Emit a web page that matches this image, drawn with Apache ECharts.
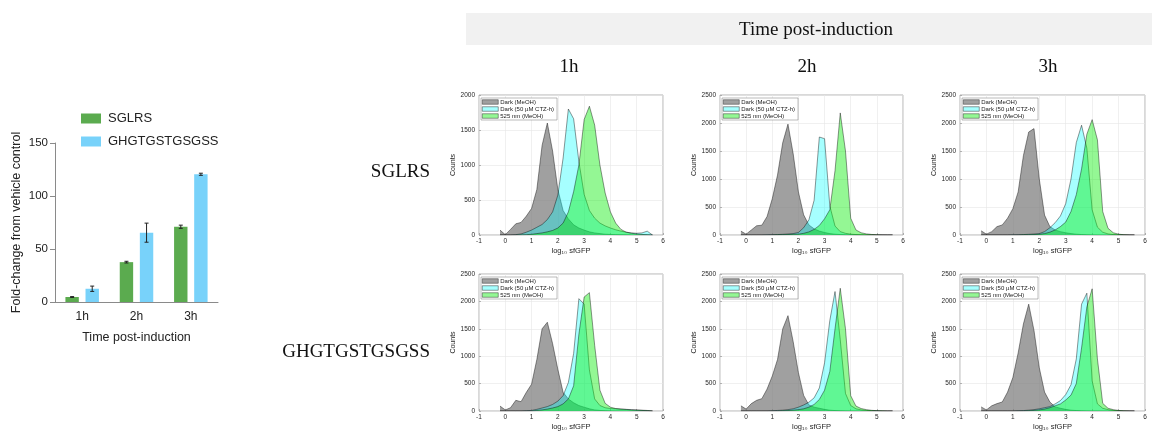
<!DOCTYPE html>
<html>
<head>
<meta charset="utf-8">
<script src="https://cdn.jsdelivr.net/npm/echarts@6/dist/echarts.min.js"></script>
<style>html,body{margin:0;padding:0;background:#fff;}#c{width:1152px;height:432px;}</style>
</head>
<body>
<div id="c"></div>
<script>
// ---------------- Bar chart data ----------------
const CATS = ['1h', '2h', '3h'];
const SGLRS_VAL = [4.7, 37.6, 71];
const SGLRS_ERR = [0.4, 0.8, 1.5];
const GHGT_VAL = [12.5, 65.4, 120.5];
const GHGT_ERR = [2.5, 9, 1];
const BAR_Y_TICKS = [0, 50, 100, 150];

// ---------------- Histogram data ----------------
const X_BINS = [-0.2,0,0.2,0.4,0.6,0.8,1.0,1.2,1.4,1.6,1.8,2.0,2.2,2.4,2.6,2.8,3.0,3.2,3.4,3.6,3.8,4.0,4.2,4.4,4.6,4.8,5.0,5.2,5.4,5.6];
const X_TICKS = [-1,0,1,2,3,4,5,6];
const SERIES_NAMES = ['Dark (MeOH)', 'Dark (50 µM CTZ-h)', '525 nm (MeOH)'];
const ROW_LABELS = ['SGLRS', 'GHGTGSTGSGSS'];
const COL_LABELS = ['1h', '2h', '3h'];
const Y_MAX = [2000, 2500, 2500, 2500, 2500, 2500];

// SGLRS 1h
const S1_DARK  = [70,5,80,160,180,270,380,650,1280,1600,1200,650,350,230,145,100,70,45,30,20,12,8,5,3,2,1,0,0,0,0];
const S1_CTZ   = [0,0,0,5,15,40,70,110,150,220,330,570,1100,1800,1660,1050,580,350,240,170,130,100,75,55,40,30,25,30,55,0];
const S1_LIGHT = [0,0,0,0,2,5,10,20,30,45,65,100,170,330,620,1000,1650,1840,1570,1000,600,330,170,80,40,25,15,8,5,0];
// SGLRS 2h
const S2_DARK  = [70,15,90,165,175,330,650,1070,1650,1980,1450,770,360,180,110,70,45,25,15,8,4,2,0,0,0,0,0,0,0,0];
const S2_CTZ   = [0,0,0,0,0,3,5,8,12,18,25,45,130,270,620,1750,1720,520,160,60,30,15,8,5,3,2,0,0,0,0];
const S2_LIGHT = [0,0,0,0,0,0,2,4,6,8,12,15,30,55,100,170,290,450,1150,2180,1500,300,90,40,20,10,5,2,0,0];
// SGLRS 3h
const S3_DARK  = [75,15,60,150,180,300,470,770,1420,1840,1900,1000,355,150,90,60,40,25,15,8,4,2,0,0,0,0,0,0,0,0];
const S3_CTZ   = [0,0,0,0,0,0,3,5,8,12,18,25,60,130,220,340,560,1000,1650,1960,1550,450,140,50,20,8,4,2,0,0];
const S3_LIGHT = [0,0,0,0,0,0,0,0,3,5,8,12,25,50,90,150,230,420,720,1180,1800,2060,1700,420,120,40,15,5,2,0];
// GHGTGSTGSGSS 1h
const G1_DARK  = [90,20,60,195,170,340,490,940,1500,1620,1230,760,340,220,150,100,70,40,20,10,5,2,0,0,0,0,0,0,0,0];
const G1_CTZ   = [0,0,0,0,0,5,10,30,55,80,120,180,280,520,1050,2050,1950,750,220,100,60,45,40,35,30,25,20,15,10,0];
const G1_LIGHT = [0,0,0,0,0,0,0,10,20,35,55,80,130,220,460,1400,2080,2160,1200,380,140,70,45,35,28,20,15,10,5,0];
// GHGTGSTGSGSS 2h
const G2_DARK  = [95,35,135,195,225,400,640,940,1500,1740,1265,700,285,110,70,50,30,15,8,4,2,0,0,0,0,0,0,0,0,0];
const G2_CTZ   = [0,0,0,0,0,0,5,10,15,25,40,70,110,160,240,420,880,1650,2180,1300,320,100,40,20,10,5,3,0,0,0];
const G2_LIGHT = [0,0,0,0,0,0,0,0,5,8,15,25,40,70,120,210,380,720,1500,2240,1500,280,90,45,25,12,6,3,0,0];
// GHGTGSTGSGSS 3h
const G3_DARK  = [75,20,95,135,165,345,610,1060,1590,1950,1470,790,345,165,75,50,30,15,8,4,2,0,0,0,0,0,0,0,0,0];
const G3_CTZ   = [0,0,0,0,0,0,0,5,8,15,25,40,60,80,130,190,300,480,950,1950,2150,550,130,50,25,10,5,0,0,0];
const G3_LIGHT = [0,0,0,0,0,0,0,0,0,5,10,20,35,60,95,130,200,290,500,1150,1900,2230,950,140,50,25,10,5,2,0];

const PANELS = [
  [S1_DARK, S1_CTZ, S1_LIGHT], [S2_DARK, S2_CTZ, S2_LIGHT], [S3_DARK, S3_CTZ, S3_LIGHT],
  [G1_DARK, G1_CTZ, G1_LIGHT], [G2_DARK, G2_CTZ, G2_LIGHT], [G3_DARK, G3_CTZ, G3_LIGHT]
];

// ---------------- Layout / style ----------------
const SANS = '"Liberation Sans", Arial, sans-serif';
const SERIF = '"Liberation Serif", "Times New Roman", serif';
const FILLS = ['rgba(120,120,120,0.7)', 'rgba(0,255,255,0.35)', 'rgba(0,235,0,0.42)'];
const PANEL_LEFT = [479, 720, 960];
const PANEL_W = [184, 183, 185];
const PANEL_TOP = [95, 274];
const PANEL_H = 140;
const GREEN = '#5bab4f', BLUE = '#78d2fa';
const BAR_W = 13.4;
const plain = v => String(v);

const grids = [{left: 55, top: 143, width: 163, height: 159}];
const xAxes = [{
  type: 'category', gridIndex: 0, data: CATS,
  axisLine: {lineStyle: {color: '#8a8a8a', width: 1}},
  axisTick: {alignWithLabel: true, length: 5, lineStyle: {color: '#8a8a8a'}},
  axisLabel: {fontSize: 12, color: '#222', fontFamily: SANS, margin: 9},
  name: 'Time post-induction', nameLocation: 'middle', nameGap: 29,
  nameTextStyle: {fontSize: 12.5, color: '#222', fontFamily: SANS}
}];
const yAxes = [{
  type: 'value', gridIndex: 0, min: BAR_Y_TICKS[0], max: BAR_Y_TICKS[BAR_Y_TICKS.length - 1], interval: 50,
  axisLine: {show: true, lineStyle: {color: '#8a8a8a', width: 1}},
  axisTick: {show: true, length: 5, lineStyle: {color: '#8a8a8a'}},
  axisLabel: {fontSize: 11.5, color: '#222', fontFamily: SANS, margin: 7, formatter: plain},
  splitLine: {show: false},
  name: 'Fold-change from vehicle control', nameLocation: 'middle', nameGap: 32,
  nameTextStyle: {fontSize: 12.5, color: '#222', fontFamily: SANS}
}];

function errRenderer(offset) {
  return function (params, api) {
    const ci = api.value(0), v = api.value(1), e = api.value(2);
    const hi = api.coord([ci, v + e]);
    const lo = api.coord([ci, v - e]);
    const x = hi[0] + offset;
    const st = {stroke: '#222', lineWidth: 1};
    return {type: 'group', children: [
      {type: 'line', shape: {x1: x, y1: hi[1], x2: x, y2: lo[1]}, style: st},
      {type: 'line', shape: {x1: x - 2, y1: hi[1], x2: x + 2, y2: hi[1]}, style: st},
      {type: 'line', shape: {x1: x - 2, y1: lo[1], x2: x + 2, y2: lo[1]}, style: st}
    ]};
  };
}

const series = [
  {type: 'bar', name: 'SGLRS', xAxisIndex: 0, yAxisIndex: 0, data: SGLRS_VAL, barWidth: BAR_W, barGap: '50%',
   itemStyle: {color: GREEN}},
  {type: 'bar', name: 'GHGTGSTGSGSS', xAxisIndex: 0, yAxisIndex: 0, data: GHGT_VAL, barWidth: BAR_W, barGap: '50%',
   itemStyle: {color: BLUE}},
  {type: 'custom', xAxisIndex: 0, yAxisIndex: 0, z: 5,
   data: SGLRS_VAL.map((v, i) => [i, v, SGLRS_ERR[i]]), renderItem: errRenderer(-BAR_W * 0.75)},
  {type: 'custom', xAxisIndex: 0, yAxisIndex: 0, z: 5,
   data: GHGT_VAL.map((v, i) => [i, v, GHGT_ERR[i]]), renderItem: errRenderer(BAR_W * 0.75)}
];

const legends = [{
  orient: 'vertical', left: 76, top: 107, itemWidth: 20, itemHeight: 10, itemGap: 10,
  icon: 'rect', data: ['SGLRS', 'GHGTGSTGSGSS'],
  textStyle: {fontSize: 13, color: '#222', fontFamily: SANS, padding: [0, 0, 0, 2]}
}];

PANELS.forEach((panel, p) => {
  const r = Math.floor(p / 3), c = p % 3;
  const gi = p + 1;
  grids.push({left: PANEL_LEFT[c], top: PANEL_TOP[r], width: PANEL_W[c], height: PANEL_H,
              show: true, borderColor: '#a0a0a0', borderWidth: 0.8, backgroundColor: '#fff'});
  xAxes.push({
    type: 'value', gridIndex: gi, min: X_TICKS[0], max: X_TICKS[X_TICKS.length - 1], interval: 1,
    axisLine: {show: false, onZero: false},
    axisTick: {show: true, inside: true, length: 2, lineStyle: {color: '#888', width: 0.6}},
    axisLabel: {fontSize: 6.5, color: '#262626', fontFamily: SANS, margin: 3, formatter: plain},
    splitLine: {show: true, lineStyle: {color: '#e6e6e6', width: 0.6}},
    name: 'log₁₀ sfGFP', nameLocation: 'middle', nameGap: 12,
    nameTextStyle: {fontSize: 7.5, color: '#262626', fontFamily: SANS}
  });
  yAxes.push({
    type: 'value', gridIndex: gi, min: 0, max: Y_MAX[p], interval: 500,
    axisLine: {show: false, onZero: false},
    axisTick: {show: true, inside: true, length: 2, lineStyle: {color: '#888', width: 0.6}},
    axisLabel: {fontSize: 6.5, color: '#262626', fontFamily: SANS, margin: 4, formatter: plain},
    splitLine: {show: true, lineStyle: {color: '#e6e6e6', width: 0.6}},
    name: 'Counts', nameLocation: 'middle', nameGap: 20,
    nameTextStyle: {fontSize: 7, color: '#262626', fontFamily: SANS}
  });
  panel.forEach((ys, k) => {
    series.push({
      type: 'line', name: SERIES_NAMES[k], xAxisIndex: gi, yAxisIndex: gi,
      data: X_BINS.map((x, i) => [x, ys[i]]),
      showSymbol: false, symbol: 'none', smooth: false, color: FILLS[k],
      lineStyle: {color: 'rgba(0,0,0,0.7)', width: 0.6},
      areaStyle: {color: FILLS[k], opacity: 1},
      z: 2 + k
    });
  });
  legends.push({
    orient: 'vertical', left: PANEL_LEFT[c] + 2, top: PANEL_TOP[r] + 3,
    itemWidth: 16, itemHeight: 4.5, itemGap: 1, padding: [1, 3, 1, 1],
    backgroundColor: '#fff', borderColor: '#777', borderWidth: 0.5,
    icon: 'rect',
    data: SERIES_NAMES.map((n, k) => ({name: n, itemStyle: {color: FILLS[k], borderColor: '#333', borderWidth: 0.5}})),
    textStyle: {fontSize: 6, color: '#222', fontFamily: SANS, lineHeight: 5, padding: [0, 0, 0, -3]}
  });
});

const txt = (x, y, text, align) => ({type: 'text', x: x, y: y, style: {text: text, font: '19px ' + SERIF, fill: '#111',
  align: align, verticalAlign: 'middle', textAlign: align, textVerticalAlign: 'middle'}});
const graphic = [
  {type: 'rect', shape: {x: 466, y: 13, width: 686, height: 32}, style: {fill: '#f1f1f1'}, z: -1},
  txt(816, 30, 'Time post-induction', 'center'),
  txt(569, 67, COL_LABELS[0], 'center'),
  txt(807, 67, COL_LABELS[1], 'center'),
  txt(1048, 67, COL_LABELS[2], 'center'),
  txt(430, 172, ROW_LABELS[0], 'right'),
  txt(430, 352, ROW_LABELS[1], 'right')
];

const chart = echarts.init(document.getElementById('c'), null, {renderer: 'canvas'});
chart.setOption({
  animation: false,
  backgroundColor: '#fff',
  grid: grids, xAxis: xAxes, yAxis: yAxes, series: series, legend: legends, graphic: graphic
});
</script>
</body>
</html>
